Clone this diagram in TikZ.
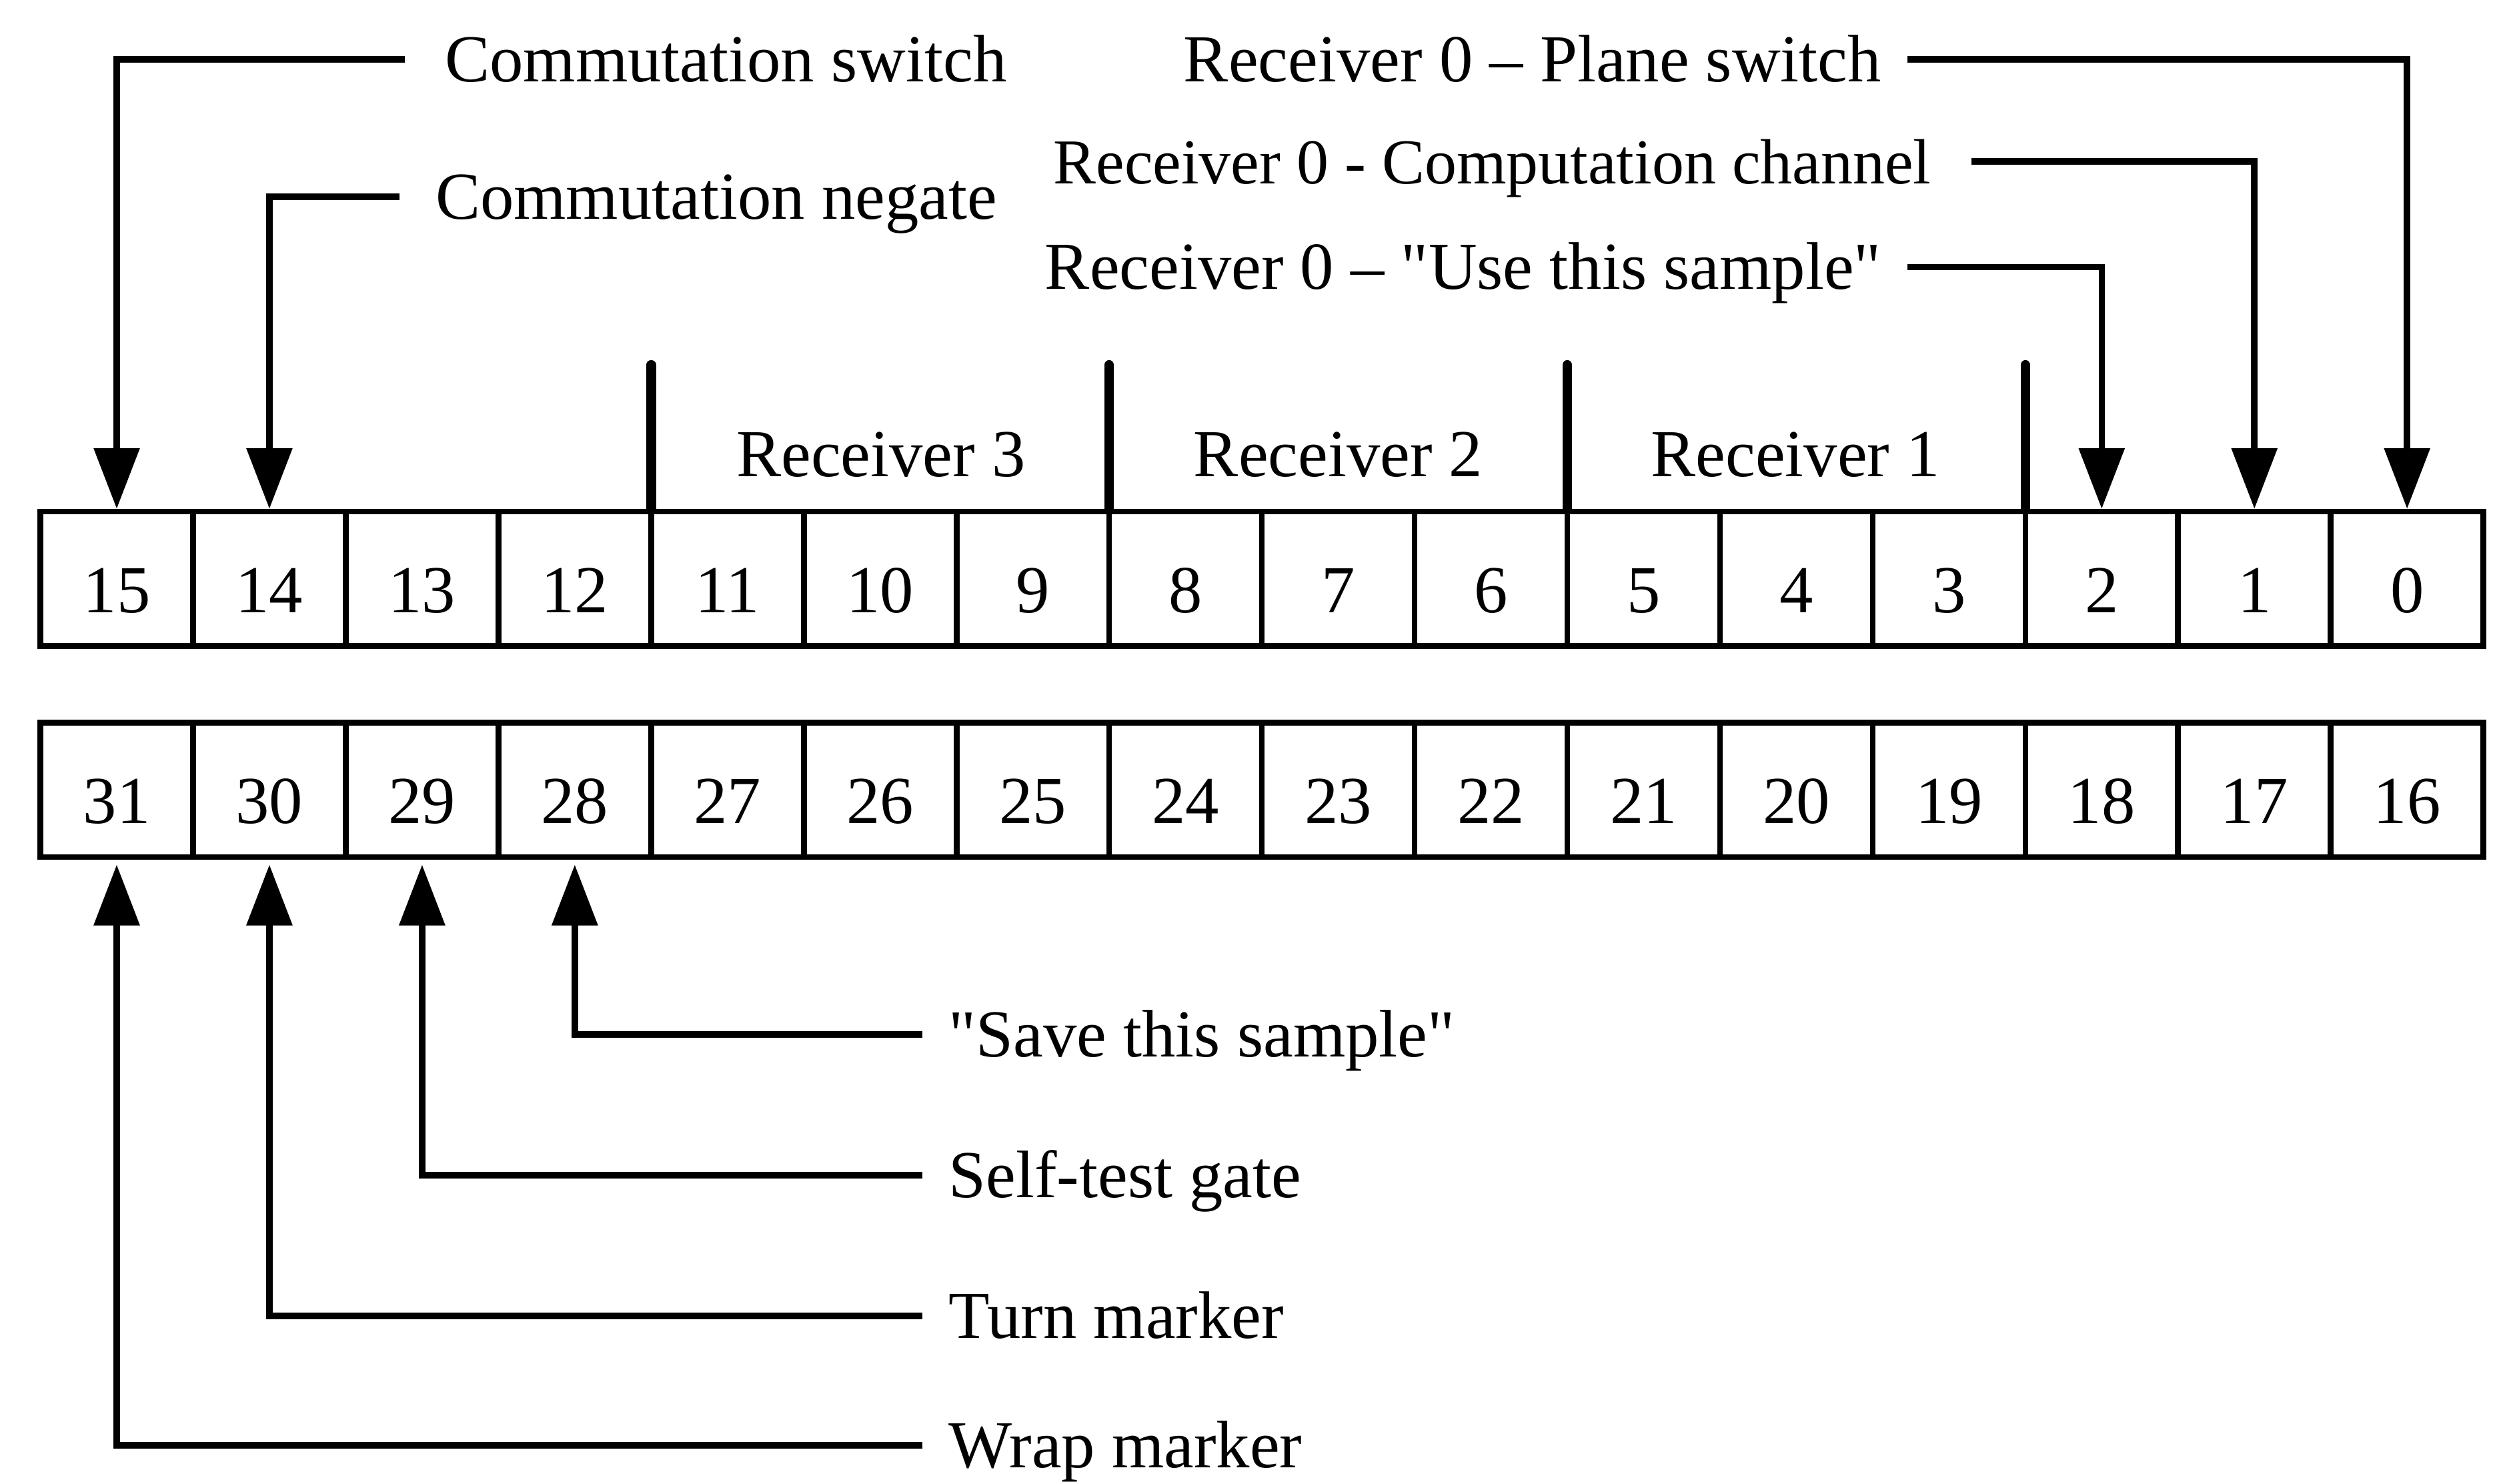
\documentclass[tikz,border=0pt]{standalone}
\usepackage{fontspec}
\setmainfont{Liberation Serif}
\usetikzlibrary{arrows.meta,positioning,calc}
% straight double quote, kept out of the TeX ligature mapping
\newcommand{\dq}{\XeTeXglyph\XeTeXcharglyph"22\relax}

\begin{document}
\begin{tikzpicture}[
  x=0.5pt,y=-0.5pt,
  font=\fontsize{21}{25}\selectfont,
  cell/.style={draw,line width=1.8pt,minimum width=47.75pt,minimum height=42pt,
               inner sep=0pt,text height=21pt,text depth=0pt},
  lbl/.style={inner ysep=0pt,inner xsep=8pt,text height=14pt,text depth=0pt},
  grp/.style={inner sep=0pt,text height=14pt,text depth=0pt},
  divider/.style={line width=3pt,line cap=round},
  arr/.style={-{Triangle[length=19pt,width=14pt]},line width=2pt},
  arrup/.style={arr,shorten >=1.5pt}
]
\useasboundingbox (0,0) rectangle (1568,928);

% ---- Register words (bits 15..0 and 31..16) ----
\foreach \n [count=\k from 0] in {15,...,0}
  \node[cell] (c\n) at ({73+95.5*\k},362) {\n};
\foreach \n [count=\k from 0] in {31,...,16}
  \node[cell] (c\n) at ({73+95.5*\k},494) {\n};

% ---- Receiver groups ----
\draw[divider] ($(c12.north east)!.5!(c11.north west)$) -- ++(0,-90);
\draw[divider] ($(c9.north east)!.5!(c8.north west)$) -- ++(0,-90);
\draw[divider] ($(c6.north east)!.5!(c5.north west)$) -- ++(0,-90);
\draw[divider] ($(c3.north east)!.5!(c2.north west)$) -- ++(0,-90);
\node[grp] (rx3) at (551,284) {Receiver 3};
\node[grp] (rx2) at (837,284) {Receiver 2};
\node[grp] (rx1) at (1123,284) {Receiver 1};

% ---- Labels above ----
\node[lbl,anchor=west,inner xsep=12.5pt] (lcsw) at (253,37)  {Commutation switch};
\node[lbl,anchor=west,inner xsep=11pt]   (lcng) at (250,123) {Commutation negate};
\node[lbl,anchor=east]                   (lpls) at (1193,37) {Receiver 0 -- Plane switch};
\node[lbl,anchor=east,inner xsep=12.5pt,font=\fontsize{20}{24}\selectfont]
                                         (lcmp) at (1233,101) {Receiver 0 - Computation channel};
\node[lbl,anchor=east]                   (luse) at (1193,167) {Receiver 0 -- \dq Use this sample\dq};

% ---- Labels below ----
\node[lbl,anchor=west] (lsave) at (577,647) {\dq Save this sample\dq};
\node[lbl,anchor=west] (lself) at (577,735) {Self-test gate};
\node[lbl,anchor=west] (lturn) at (577,823) {Turn marker};
\node[lbl,anchor=west] (lwrap) at (577,904) {Wrap marker};

% ---- Connectors ----
\draw[arr] (lcsw.west) -| (c15.north);
\draw[arr] (lcng.west) -| (c14.north);
\draw[arr] (lpls.east) -| (c0.north);
\draw[arr] (lcmp.east) -| (c1.north);
\draw[arr] (luse.east) -| (c2.north);
\draw[arrup] (lsave.west) -| (c28.south);
\draw[arrup] (lself.west) -| (c29.south);
\draw[arrup] (lturn.west) -| (c30.south);
\draw[arrup] (lwrap.west) -| (c31.south);
\end{tikzpicture}
\end{document}
